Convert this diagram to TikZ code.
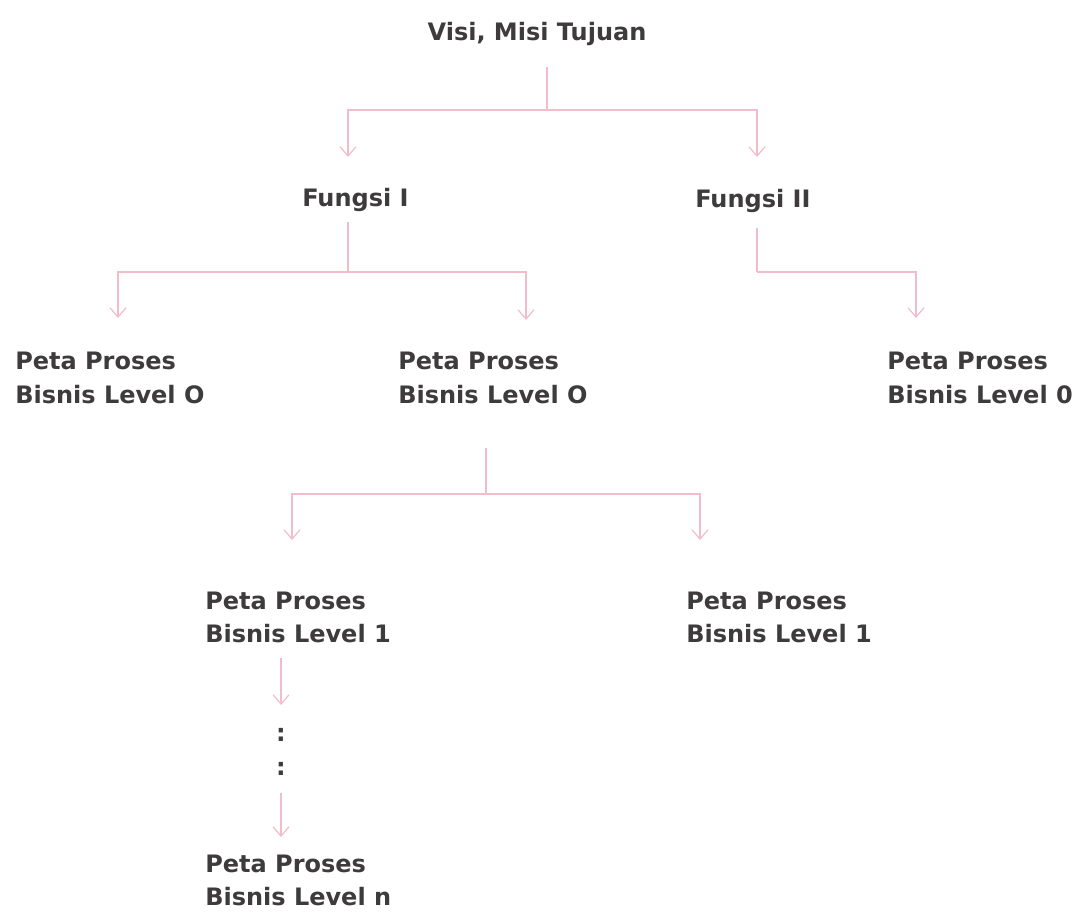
\documentclass[tikz,border=0pt]{standalone}
\usepackage{fontspec}
\setmainfont{DejaVu Sans}
\usetikzlibrary{arrows.meta, calc}
\definecolor{linkpink}{HTML}{F2BCCB}
\definecolor{txtgray}{HTML}{3D3B3C}
\tikzset{>={Straight Barb[length=7pt,width=12pt]},
  lbl/.style={font=\bfseries\fontsize{18}{24.75}\selectfont, text=txtgray, inner sep=0pt, align=left},
  link/.style={draw=linkpink, line width=0.9pt}}

\begin{document}
\begin{tikzpicture}[x=0.75pt, y=-0.75pt]
    \useasboundingbox (0,0) rectangle (1077,912);
    % labels (base = last line)
    \node [lbl, anchor=base] (visi) at (537,41) {Visi, Misi Tujuan};
    \node [lbl, anchor=base west] (f1) at (302,207) {Fungsi I};
    \node [lbl, anchor=base west] (f2) at (695,208) {Fungsi II};
    \node [lbl, anchor=base west] (p0a) at (15,403) {Peta Proses\\Bisnis Level O};
    \node [lbl, anchor=base west] (p0b) at (398,403) {Peta Proses\\Bisnis Level O};
    \node [lbl, anchor=base west] (p0c) at (887,403) {Peta Proses\\Bisnis Level 0};
    \node [lbl, anchor=base west] (p1a) at (205,642) {Peta Proses\\Bisnis Level 1};
    \node [lbl, anchor=base west] (p1b) at (686,642) {Peta Proses\\Bisnis Level 1};
    \node [lbl, anchor=base] (dots1) at (281,741) {:};
    \node [lbl, anchor=base] (dots2) at (281,775) {:};
    \node [lbl, anchor=base west] (pn) at (205,905) {Peta Proses\\Bisnis Level n};
    % junctions
    \coordinate (j0) at (547,110);
    \coordinate (j1) at (348,272);
    \coordinate (j2) at (757,272);
    \coordinate (j3) at (486,494);
    % connectors
    \draw [link] ($(visi.base -| j0)+(0,26)$) -- (j0);
    \draw [link, ->] (j0) -| ($(f1.base -| j1)+(0,-50)$);
    \draw [link, ->] (j0) -| ($(f2.base -| j2)+(0,-51)$);
    \draw [link] ($(f1.base -| j1)+(0,15)$) -- (j1);
    \draw [link, ->] (j1) -| ($(p0a.base west)+(103,-85)$);
    \draw [link, ->] (j1) -| ($(p0b.base west)+(128,-83)$);
    \draw [link] ($(f2.base -| j2)+(0,20)$) -- (j2);
    \draw [link, ->] (j2) -| ($(p0c.base west)+(29,-85)$);
    \draw [link] ($(p0b.base -| j3)+(0,45)$) -- (j3);
    \draw [link, ->] (j3) -| ($(p1a.base west)+(87,-102)$);
    \draw [link, ->] (j3) -| ($(p1b.base west)+(14,-102)$);
    \draw [link, ->] ($(p1a.base -| dots1)+(0,16)$) -- ($(dots1.base)+(0,-36)$);
    \draw [link, ->] ($(dots2.base)+(0,18)$) -- ($(pn.base -| dots2)+(0,-68)$);
\end{tikzpicture}
\end{document}
